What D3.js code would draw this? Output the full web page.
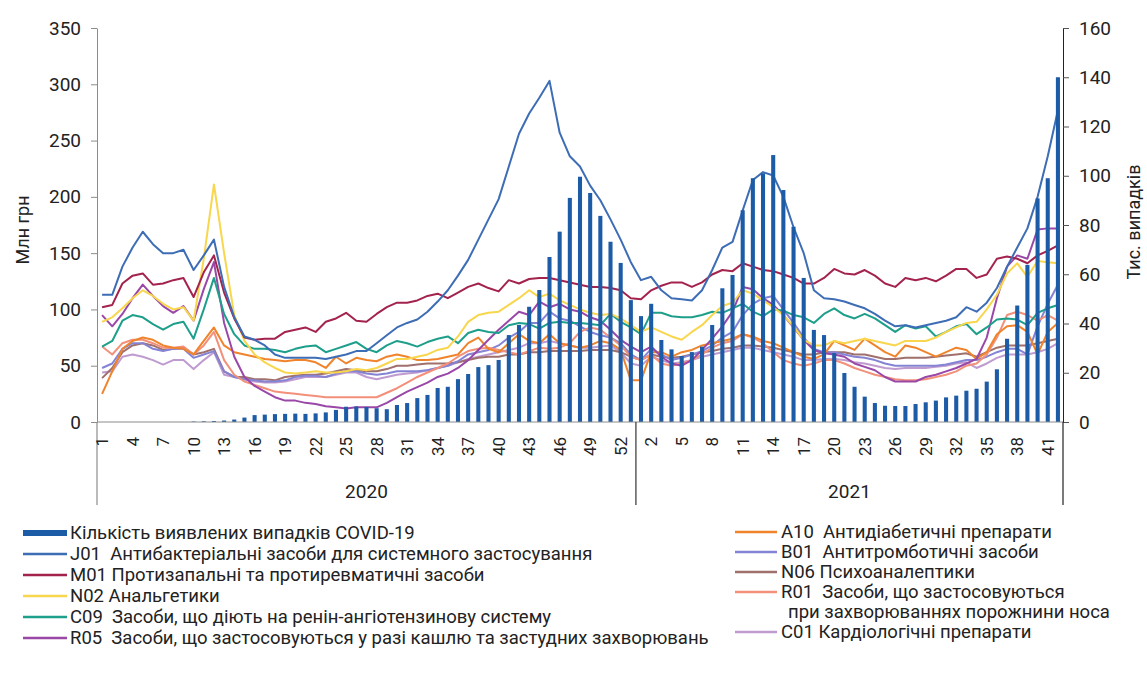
<!DOCTYPE html>
<html><head><meta charset="utf-8">
<script src="https://cdn.jsdelivr.net/npm/d3@7"></script>
<style>
body{margin:0;background:#fff}
svg text{font-family:Roboto,"Noto Sans",sans-serif;fill:#222}
</style>
</head><body>
<svg id="chart" width="1147" height="683"></svg>
<script>
// ---------- DATA ----------
const years = ["2020", "2021"];
const weeksInYear = [53, 42];
const leftTicks = [0, 50, 100, 150, 200, 250, 300, 350];
const rightTicks = [0, 20, 40, 60, 80, 100, 120, 140, 160];

// COVID-19 cases, thousands (right axis)
const covid = [
 0,0,0,0,0,0,0,0,0,0.2, 0.3,0.4,0.6,1.0,1.8,2.8,3.0,3.2,3.3,3.4, 3.3,3.5,3.9,4.9,6.2,6.3,6.1,5.6,5.2,6.9,
 7.7,9.7,11,13.8,14.3,17.4,19.5,22.3,23.1,25.2, 35.3,39.4,46.8,53.6,67,77.3,91,99.6,93,83.7, 73.2,64.6,49.5,
 43,48,33.3,29.5,26.8,28.4,30.6,39.4,54.3,59.7, 86,99,101,108.4,94.2,79.3,58.5,37.4,35.3,28, 19.9,14.3,10.3,7.7,6.6,6.5,6.5,7.3,8,8.7,
 10,10.7,12.7,13.5,16.4,21.4,33.8,47.3,63.8,90.8, 99,140];

// Sales, mln UAH (left axis)
const J01 = [
 113,113,138,155,169,158,150,150,153,135, 148,162,120,93,76,73,68,60,57,57, 57,57,56,58,60,63,63,70,77,84,
 88,91,98,107,117,130,144,162,180,198, 227,256,274,288,303,257,236,227,210,197, 180,162,142,
 126,129,117,110,109,108,117,135,155,160, 188,215,222,219,200,173,150,117,110,109, 107,104,101,96,90,85,86,84,86,88,
 90,93,102,98,106,119,138,155,172,200, 236,277];
const M01 = [
 102,104,123,130,132,122,123,126,128,111, 133,148,115,92,75,73,74,74,80,82, 84,80,89,92,97,90,89,96,102,106,
 106,108,112,114,110,115,120,123,119,116, 126,123,127,128,128,126,124,122,120,120, 119,117,110,
 109,117,121,124,124,120,124,131,135,134, 141,138,135,134,131,128,123,123,128,136, 132,131,135,130,123,120,128,126,128,125,
 130,136,136,128,131,145,147,145,141,148, 152,157];
const N02 = [
 89,93,101,110,117,112,105,100,102,90, 145,211,150,95,72,60,53,48,44,43, 44,45,44,44,45,47,46,48,52,56,
 56,58,60,64,66,76,89,95,97,98, 104,110,117,111,114,108,104,100,97,95, 96,92,86,
 80,84,80,76,73,80,86,95,103,106, 117,114,108,102,95,85,73,68,68,72, 70,72,74,72,70,68,72,72,72,75,
 80,84,88,89,100,113,132,141,129,143, 142,141];
const C09 = [
 67,72,90,95,93,87,82,87,89,74, 100,128,96,78,68,65,65,64,62,65, 67,68,62,65,68,71,65,62,68,72,
 70,67,71,74,76,70,79,82,80,79, 86,88,87,83,88,89,88,88,87,86, 96,89,84,
 78,97,97,94,93,93,95,98,97,101, 105,98,94,100,99,95,93,88,96,101, 95,92,96,92,86,80,86,83,85,76,
 80,85,87,78,84,91,92,91,86,97, 101,104];
const R05 = [
 95,85,96,110,122,112,103,97,103,90, 118,142,88,58,40,32,27,22,19,19, 17,16,14,13,12,13,13,13,17,22,
 27,31,35,40,43,48,55,64,73,82, 90,98,95,107,102,105,100,98,93,90, 82,73,67,
 62,67,58,52,50,55,64,74,85,98, 120,118,110,104,95,84,73,64,61,60, 58,52,49,46,40,36,36,36,40,42,
 45,48,52,56,75,110,138,148,145,171, 172,172];
const A10 = [
 25,45,65,72,75,73,68,66,65,60, 72,84,68,62,60,58,56,55,54,55, 55,53,48,58,52,57,55,54,58,60,
 58,55,55,56,58,60,70,75,65,62, 70,78,72,70,78,70,68,66,68,72, 70,64,37,
 37,62,62,58,62,64,68,70,72,74, 78,76,72,70,66,62,58,56,60,72, 68,64,74,68,62,58,68,66,62,58,
 62,66,64,56,62,78,85,86,80,60, 80,88];
const B01 = [
 48,52,65,70,70,65,63,65,65,57, 60,63,45,40,38,37,36,36,37,40, 41,41,40,43,45,45,43,42,43,45,
 45,45,46,48,50,54,60,62,64,68, 75,80,88,88,98,92,90,85,80,77, 75,70,60,
 55,65,60,55,57,60,63,68,75,80, 95,105,110,112,100,88,75,65,62,62, 60,58,57,55,52,50,50,50,50,50,
 51,53,55,55,58,62,65,65,60,85, 105,122];
const N06 = [
 39,48,62,68,70,68,64,65,66,60, 62,65,45,40,40,38,38,37,40,41, 42,42,43,45,47,46,45,45,47,50,
 50,51,52,52,52,53,55,57,58,58, 60,60,62,62,63,63,63,63,64,64, 64,62,58,
 55,60,58,57,58,60,62,63,65,66, 68,68,67,66,64,62,60,60,62,62, 62,60,60,58,56,56,57,57,57,58,
 59,60,61,58,62,66,68,68,68,70, 72,74];
const R01 = [
 67,60,70,73,73,70,66,66,67,60, 68,80,55,42,36,33,30,27,26,25, 24,23,22,22,22,22,22,22,26,30,
 35,40,44,48,52,58,63,65,66,64, 62,60,63,66,65,66,70,80,84,82, 75,68,58,
 55,60,52,50,52,55,60,66,70,72, 78,75,70,62,55,52,50,52,55,55, 52,48,45,42,40,38,37,37,38,40,
 42,45,50,52,60,75,95,98,95,90, 95,90];
const C01 = [
 44,45,58,60,58,55,51,55,55,47, 55,62,42,40,38,36,35,35,36,38, 40,40,40,42,44,44,40,38,40,42,
 43,44,46,48,50,53,56,58,60,62, 64,66,70,70,72,70,68,66,66,67, 68,62,52,
 50,58,55,52,53,55,58,60,62,64, 66,66,64,62,60,58,55,55,56,56, 55,53,52,50,48,47,48,48,48,49,
 50,52,53,48,52,57,60,60,60,62, 65,70];

const barLabel = "Кількість виявлених випадків COVID-19";
const lineSeries = [
 {code:"J01", sep:"  ", name:"Антибактеріальні засоби для системного застосування", values:J01, color:"#3d6db5"},
 {code:"M01", sep:" ", name:"Протизапальні та протиревматичні засоби", values:M01, color:"#a3234d"},
 {code:"N02", sep:" ", name:"Анальгетики", values:N02, color:"#f8d64e"},
 {code:"C09", sep:"  ", name:"Засоби, що діють на ренін-ангіотензинову систему", values:C09, color:"#1e9f8b"},
 {code:"R05", sep:"  ", name:"Засоби, що застосовуються у разі кашлю та застудних захворювань", values:R05, color:"#9a48a8"},
 {code:"A10", sep:"  ", name:"Антидіабетичні препарати", values:A10, color:"#f0842c"},
 {code:"B01", sep:"  ", name:"Антитромботичні засоби", values:B01, color:"#8583d4"},
 {code:"N06", sep:" ", name:"Психоаналептики", values:N06, color:"#a0706c"},
 {code:"R01", sep:"  ", name:"Засоби, що застосовуються|при захворюваннях порожнини носа", values:R01, color:"#f3907a"},
 {code:"C01", sep:" ", name:"Кардіологічні препарати", values:C01, color:"#bf9bd0"}
];
const drawOrder = ["C01","N06","B01","R01","A10","R05","C09","N02","M01","J01"];

// ---------- CHART ----------
const svg = d3.select("#chart");
const plot = {left:97, right:1063, top:28, bottom:422, catBottom:505};

const cats = [];
years.forEach((y, yi) => { for (let w = 1; w <= weeksInYear[yi]; w++) cats.push({year:y, week:w}); });
const idx = d3.range(cats.length);

const x = d3.scaleBand().domain(idx).range([plot.left, plot.right]).padding(0);
const xc = i => x(i) + x.bandwidth() / 2;
const yL = d3.scaleLinear().domain([0, 350]).range([plot.bottom, plot.top]);
const yR = d3.scaleLinear().domain([0, 160]).range([plot.bottom, plot.top]);

// lines
const line = d3.line().x((d, i) => xc(i)).y(d => yL(d));
const gLines = svg.append("g");
drawOrder.forEach(code => {
  const s = lineSeries.find(t => t.code === code);
  gLines.append("path").datum(s.values).attr("d", line)
    .attr("fill", "none").attr("stroke", s.color).attr("stroke-width", 2)
    .attr("stroke-linejoin", "round");
});

// bars
const barW = x.bandwidth() * 0.4;
svg.append("g").selectAll("rect").data(covid).join("rect")
  .attr("x", (d, i) => xc(i) - barW / 2)
  .attr("width", barW)
  .attr("y", d => yR(d))
  .attr("height", d => yR(0) - yR(d))
  .attr("fill", "#1c5ba6");

// axes
const axisColor = "#8c8c8c";
const gL = svg.append("g").attr("transform", `translate(${plot.left},0)`)
  .call(d3.axisLeft(yL).tickValues(leftTicks).tickSize(6).tickPadding(10).tickSizeOuter(0));
gL.select(".domain").attr("stroke", axisColor);
gL.selectAll(".tick line").attr("stroke", axisColor);
gL.selectAll(".tick text").style("font-size", "19px").attr("fill", "#222");

const gR = svg.append("g").attr("transform", `translate(${plot.right},0)`)
  .call(d3.axisRight(yR).tickValues(rightTicks).tickSize(6).tickPadding(10).tickSizeOuter(0));
gR.select(".domain").attr("stroke", "#222");
gR.selectAll(".tick line").attr("stroke", "#555");
gR.selectAll(".tick text").style("font-size", "19px").attr("fill", "#222");

// category axis
svg.append("line").attr("x1", plot.left).attr("x2", plot.right)
  .attr("y1", plot.bottom).attr("y2", plot.bottom).attr("stroke", axisColor);
const sepXs = [plot.left, x(weeksInYear[0]), plot.right];
sepXs.forEach((sx, k) => {
  svg.append("line").attr("x1", sx).attr("x2", sx).attr("y1", plot.bottom).attr("y2", plot.catBottom)
    .attr("stroke", k === 2 ? "#222" : (k === 1 ? "#333" : axisColor)).attr("stroke-width", 1.2);
});
svg.append("g").selectAll("text").data(idx.filter(i => i % 3 === 0)).join("text")
  .attr("transform", i => `translate(${xc(i)},${plot.bottom + 15}) rotate(-90)`)
  .attr("text-anchor", "end").attr("dy", "0.35em")
  .style("font-size", "17px")
  .text(i => cats[i].week);
years.forEach((y, yi) => {
  const a = sepXs[yi], b = sepXs[yi + 1];
  svg.append("text").attr("x", (a + b) / 2).attr("y", 491).attr("dy", "0.35em")
    .attr("text-anchor", "middle").style("font-size", "19px").text(y);
});

// axis titles
svg.append("text").attr("transform", "translate(23,230) rotate(-90)").attr("text-anchor", "middle")
  .attr("dy", "0.35em").style("font-size", "18px").text("Млн грн");
svg.append("text").attr("transform", "translate(1134,222) rotate(-90)").attr("text-anchor", "middle")
  .attr("dy", "0.35em").style("font-size", "18px").text("Тис. випадків");

// legend
const legFont = "18.5px";
const leg = svg.append("g");
const leftRows = [{label:barLabel, bar:true}].concat(lineSeries.slice(0, 5));
leftRows.forEach((r, k) => {
  const yy = 533 + k * 21;
  if (r.bar) {
    leg.append("rect").attr("x", 23).attr("y", yy - 3).attr("width", 44).attr("height", 6).attr("fill", "#1c5ba6");
  } else {
    leg.append("line").attr("x1", 23).attr("x2", 67).attr("y1", yy).attr("y2", yy)
      .attr("stroke", r.color).attr("stroke-width", 2.5);
  }
  leg.append("text").attr("x", 70).attr("y", yy).attr("dy", "0.35em").style("font-size", legFont)
    .style("white-space", "pre")
    .text(r.bar ? r.label : r.code + r.sep + r.name);
});
let ry = 532;
lineSeries.slice(5).forEach(r => {
  leg.append("line").attr("x1", 735).attr("x2", 777).attr("y1", ry).attr("y2", ry)
    .attr("stroke", r.color).attr("stroke-width", 2.5);
  const parts = r.name.split("|");
  leg.append("text").attr("x", 781).attr("y", ry).attr("dy", "0.35em").style("font-size", legFont)
    .style("white-space", "pre").text(r.code + r.sep + parts[0]);
  ry += 20;
  if (parts[1]) {
    leg.append("text").attr("x", 788).attr("y", ry).attr("dy", "0.35em").style("font-size", legFont)
      .text(parts[1]);
    ry += 20;
  }
});
</script>
</body></html>
